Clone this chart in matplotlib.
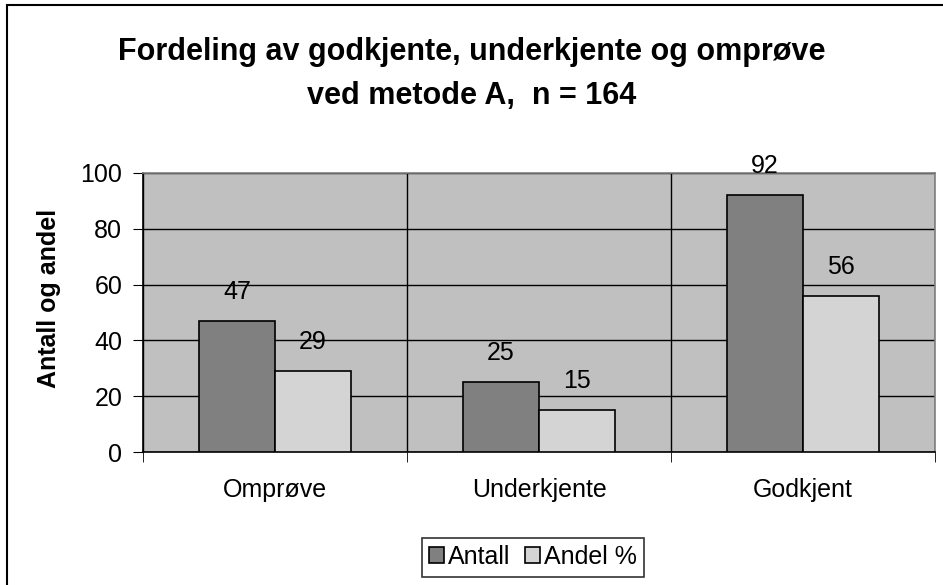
import matplotlib
matplotlib.use("Agg")
import matplotlib.pyplot as plt
from matplotlib.patches import Rectangle
import numpy as np

categories = ["Omprøve", "Underkjente", "Godkjent"]
antall = [47, 25, 92]
andel = [29, 15, 56]
series_names = ["Antall", "Andel %"]
yticks = [0, 20, 40, 60, 80, 100]

plt.rcParams['font.family'] = ['Liberation Sans', 'DejaVu Sans']

fig = plt.figure(figsize=(9.43, 5.85), dpi=100)
ax = fig.add_axes([143 / 943, 1 - 452 / 585, 792 / 943, 279 / 585])
ax.set_facecolor('#c0c0c0')

x = np.arange(len(categories))
w = 0.288
b1 = ax.bar(x - w / 2, antall, w, color='#808080', edgecolor='black', linewidth=1.2,
            label=series_names[0], zorder=3)
b2 = ax.bar(x + w / 2, andel, w, color='#d4d4d4', edgecolor='black', linewidth=1.2,
            label=series_names[1], zorder=3)

# value labels above bars
for bars, vals in ((b1, antall), (b2, andel)):
    for rect, v in zip(bars, vals):
        ax.annotate(str(v), (rect.get_x() + rect.get_width() / 2, v),
                    xytext=(0, 21), textcoords='offset points',
                    ha='center', va='center', fontsize=18, zorder=4)

ax.set_xlim(-0.5, len(categories) - 0.5)
ax.set_ylim(0, 100)
ax.set_yticks(yticks)
ax.set_xticks(x)
ax.set_xticklabels(categories, fontsize=18)
ax.set_xticks(np.arange(len(categories) + 1) - 0.5, minor=True)
ax.tick_params(axis='x', which='major', length=0, pad=19)
ax.tick_params(axis='x', which='minor', length=7, direction='out', color='black')
ax.tick_params(axis='y', length=7.5, direction='out', labelsize=18, pad=7.5)

ax.grid(axis='y', which='major', color='black', linewidth=1, zorder=1)
ax.grid(axis='x', which='minor', color='black', linewidth=1, zorder=1)
ax.set_axisbelow(True)

for s in ('top', 'right'):
    ax.spines[s].set_color('#808080')
    ax.spines[s].set_linewidth(1.2)
for s in ('left', 'bottom'):
    ax.spines[s].set_color('black')
    ax.spines[s].set_linewidth(1.2)

ax.set_ylabel("Antall og andel", fontsize=18, fontweight='bold')
ax.yaxis.set_label_coords(-0.104, 0.55)

fig.suptitle("Fordeling av godkjente, underkjente og omprøve\nved metode A,  n = 164",
             x=0.5, y=1 - 37 / 585, fontsize=22, fontweight='bold', linespacing=1.6,
             va='top')

leg = fig.legend(handles=[b1, b2], loc='center', bbox_to_anchor=(533 / 943, 1 - 557 / 585),
                 ncol=2, fontsize=18, frameon=True, fancybox=False, edgecolor='black',
                 handlelength=0.6, handleheight=0.6, handletextpad=0.15,
                 columnspacing=0.6, borderpad=0.3, borderaxespad=0)
leg.get_frame().set_linewidth(1.2)

# outer chart border (only left and top visible in the crop)
fig.patches.append(Rectangle((7 / 943, -0.2), 1.2, (585 - 5) / 585 + 0.2,
                             transform=fig.transFigure, fill=False,
                             edgecolor='black', linewidth=1.5))

fig.savefig("out.png", dpi=100)
